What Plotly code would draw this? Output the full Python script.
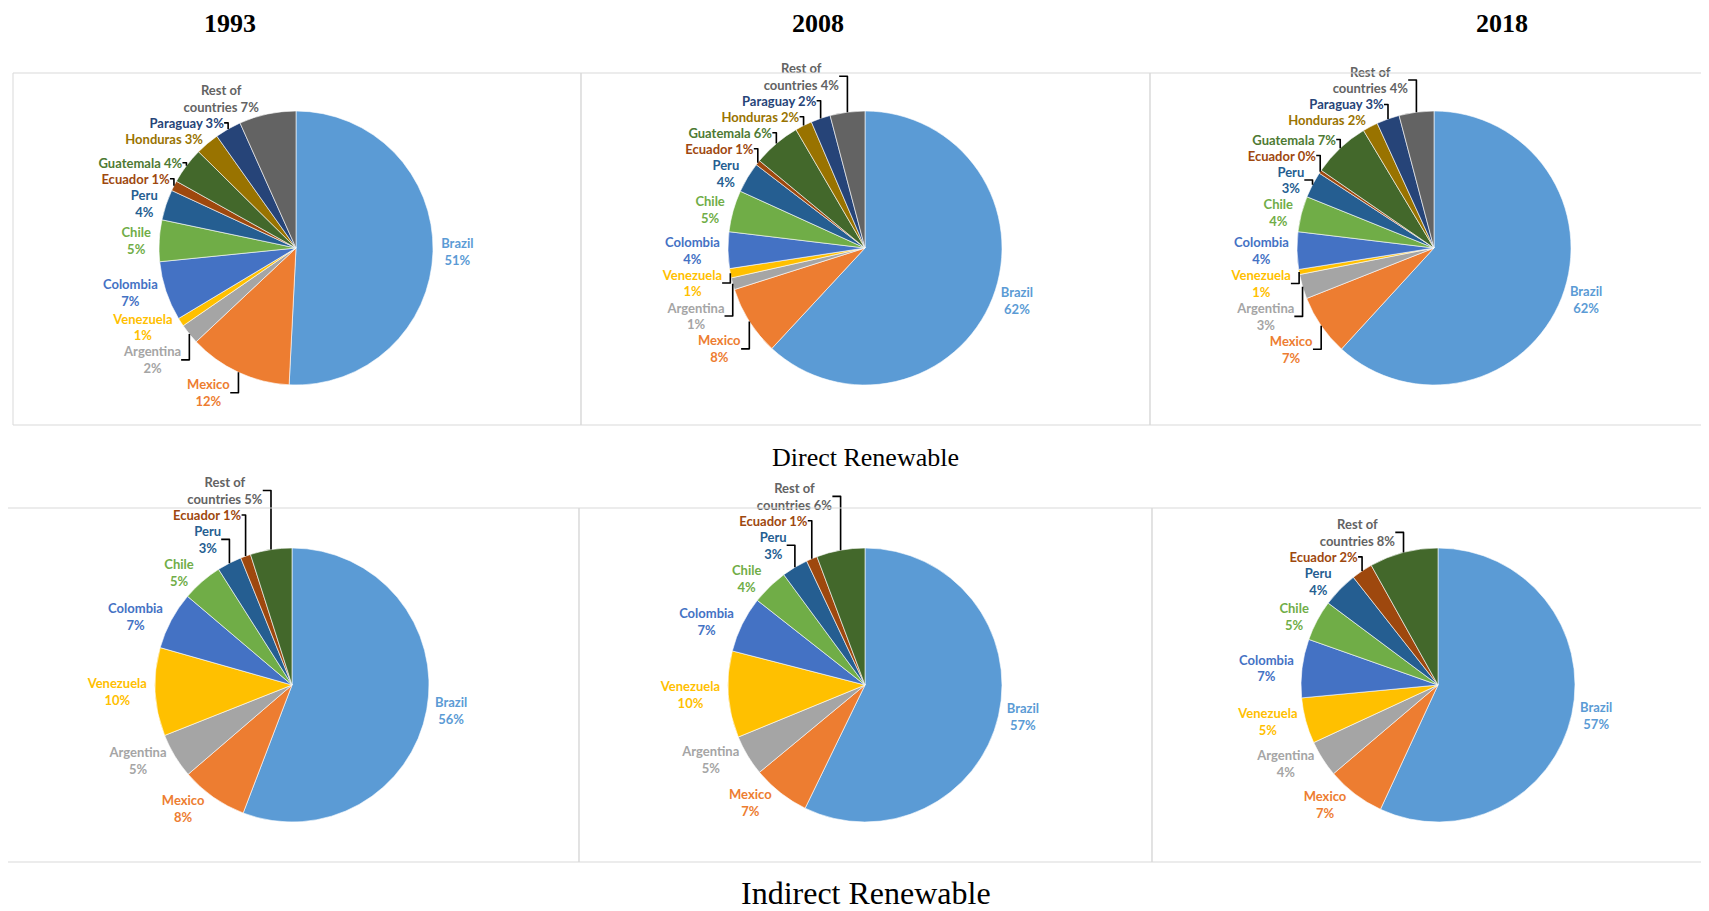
import plotly.graph_objects as go

# ---------------- data ----------------
years = ["1993", "2008", "2018"]

direct_countries = ["Brazil", "Mexico", "Argentina", "Venezuela", "Colombia", "Chile",
                    "Peru", "Ecuador", "Guatemala", "Honduras", "Paraguay", "Rest of countries"]
direct_1993 = [50.8, 12.2, 2.4, 1.0, 7.0, 4.9, 3.6, 1.2, 4.3, 2.8, 3.1, 6.7]
direct_2008 = [61.9, 8.2, 1.4, 1.1, 4.3, 4.9, 3.6, 0.6, 5.6, 2.0, 2.3, 4.1]
direct_2018 = [61.8, 7.2, 2.9, 0.6, 4.4, 4.2, 3.1, 0.4, 6.8, 1.8, 2.7, 4.1]

indirect_countries = ["Brazil", "Mexico", "Argentina", "Venezuela", "Colombia", "Chile",
                      "Peru", "Ecuador", "Rest of countries"]
indirect_1993 = [55.8, 7.9, 5.3, 10.4, 6.8, 4.8, 2.9, 1.2, 4.9]
indirect_2008 = [57.2, 6.8, 4.8, 10.2, 6.6, 4.3, 3.1, 1.3, 5.7]
indirect_2018 = [56.9, 6.9, 4.3, 5.4, 6.9, 4.8, 4.2, 2.5, 8.1]

row_titles = ["Direct Renewable", "Indirect Renewable"]

# ---------------- styles ----------------
slice_colors = {
    "Brazil": "#5B9BD5", "Mexico": "#ED7D31", "Argentina": "#A5A5A5", "Venezuela": "#FFC000",
    "Colombia": "#4472C4", "Chile": "#70AD47", "Peru": "#255E91", "Ecuador": "#9E480E",
    "Guatemala": "#43682B", "Honduras": "#997300", "Paraguay": "#264478",
}
rest_color_direct = "#636363"
rest_color_indirect = "#43682B"
label_colors = dict(slice_colors)
label_colors["Rest of countries"] = "#636363"
label_colors["Guatemala"] = "#4E7A33"

# labels written on one line (crowded top-left of the pies)
one_line_direct = {"Ecuador", "Guatemala", "Honduras", "Paraguay"}
one_line_indirect = {"Ecuador"}

OFF = 8  # page body margin
W, H = 1709 - OFF, 911 - OFF
R = 137
centers_top = [(296, 248), (865, 248), (1434, 248)]
centers_bot = [(292, 685), (865, 685), (1438, 685)]


def px_x(x):
    return (x - OFF) / W


def px_y(y):
    return 1 - (y - OFF) / H


def make_text(names, vals, one_line):
    tot = sum(vals)
    out = []
    for n, v in zip(names, vals):
        p = round(v / tot * 100)
        if n == "Rest of countries":
            out.append(f"<b>Rest of<br>countries {p}%</b>")
        elif n in one_line:
            out.append(f"<b>{n} {p}%</b>")
        else:
            out.append(f"<b>{n}<br>{p}%</b>")
    return out


def domain(c):
    cx, cy = c
    return dict(x=[px_x(cx - R), px_x(cx + R)], y=[px_y(cy + R), px_y(cy - R)])


fig = go.Figure()

rows = [
    (direct_countries, [direct_1993, direct_2008, direct_2018], centers_top, rest_color_direct, one_line_direct),
    (indirect_countries, [indirect_1993, indirect_2008, indirect_2018], centers_bot, rest_color_indirect, one_line_indirect),
]
for names, series, centers, rest_col, one_line in rows:
    for vals, c in zip(series, centers):
        cols = [slice_colors.get(n, rest_col) for n in names]
        tcols = [label_colors[n] for n in names]
        fig.add_trace(go.Pie(
            labels=names, values=vals, sort=False, direction="clockwise", rotation=0,
            text=make_text(names, vals, one_line), texttemplate="%{text}", textposition="outside",
            textfont=dict(family="Lato", size=13, color=tcols),
            marker=dict(colors=cols, line=dict(color="white", width=0.6)),
            domain=domain(c), showlegend=False, hoverinfo="label+percent",
            automargin=False,
        ))

# panel borders
border = "#D9D9D9"
top_x = [13, 581, 1150, 1709]
bot_x = [7, 579, 1152, 1709]
shapes = []
for i in range(3):
    shapes.append(dict(type="rect", xref="paper", yref="paper",
                       x0=px_x(top_x[i]), x1=px_x(top_x[i + 1]), y0=px_y(425), y1=px_y(73),
                       line=dict(color=border, width=1)))
    shapes.append(dict(type="rect", xref="paper", yref="paper",
                       x0=px_x(bot_x[i]), x1=px_x(bot_x[i + 1]), y0=px_y(862), y1=px_y(508),
                       line=dict(color=border, width=1)))

annotations = []
for yr, x in zip(years, [230, 818, 1502]):
    annotations.append(dict(text=f"<b>{yr}</b>", x=px_x(x), y=px_y(8), xref="paper", yref="paper",
                            showarrow=False, font=dict(family="Liberation Serif", size=26, color="black"),
                            xanchor="center", yanchor="top", borderpad=0))
annotations.append(dict(text=row_titles[0], x=px_x(865), y=px_y(458), xref="paper", yref="paper",
                        showarrow=False, font=dict(family="Liberation Serif", size=26, color="black"),
                        xanchor="center", yanchor="middle"))
annotations.append(dict(text=row_titles[1], x=px_x(866), y=px_y(893), xref="paper", yref="paper",
                        showarrow=False, font=dict(family="Liberation Serif", size=32, color="black"),
                        xanchor="center", yanchor="middle"))

fig.update_layout(
    width=W, height=H, margin=dict(l=0, r=0, t=0, b=0),
    paper_bgcolor="white", plot_bgcolor="white",
    shapes=shapes, annotations=annotations,
)

fig.write_html("out.html")
